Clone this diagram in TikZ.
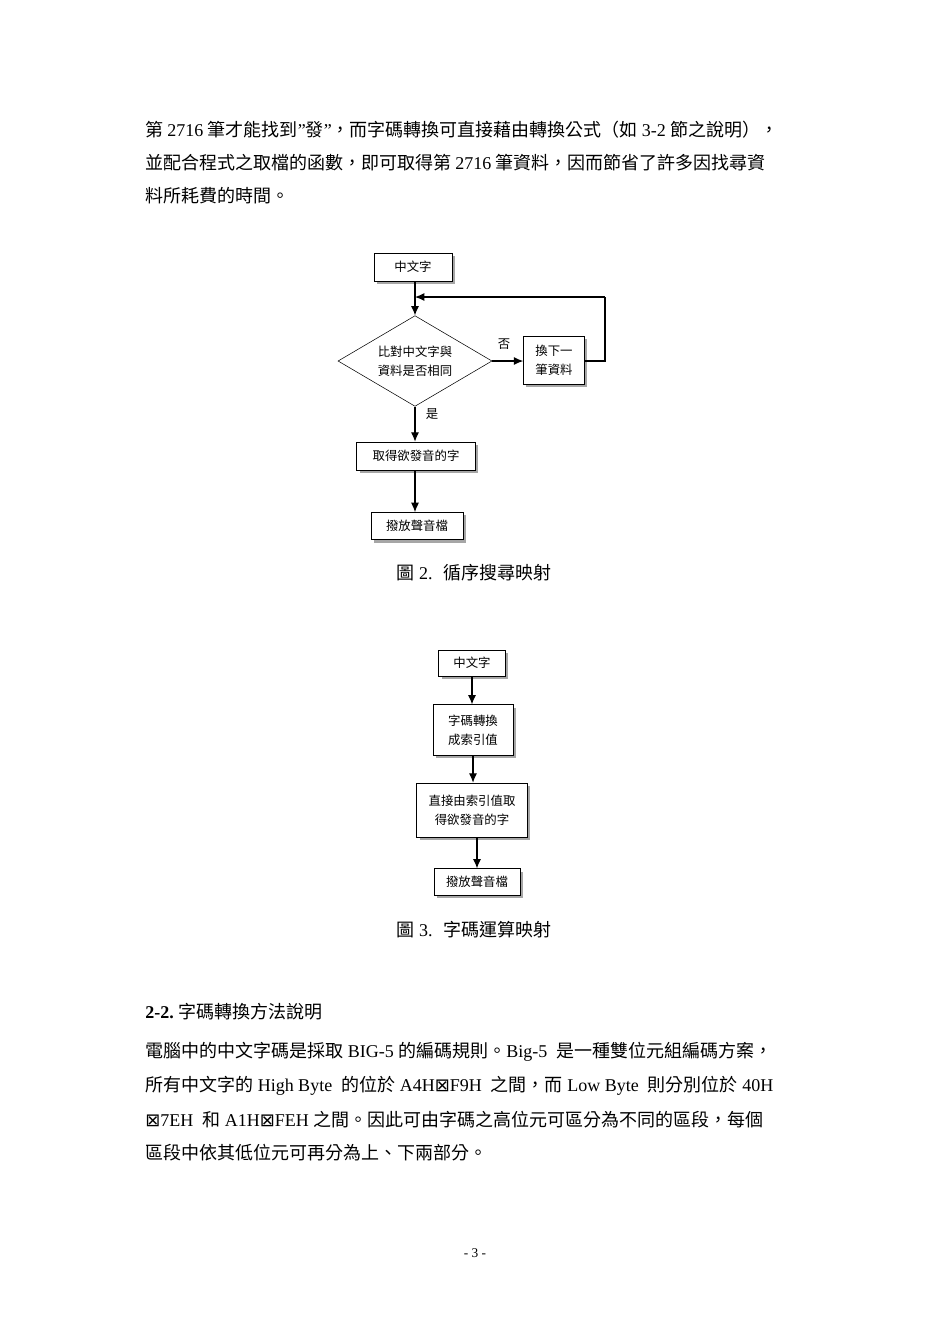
\documentclass[tikz,border=0pt]{standalone}
\usepackage{fontspec}
\setmainfont{Liberation Serif}
\newfontfamily\cjk{Noto Sans CJK TC}
\newfontfamily\dvs{DejaVu Sans}
\usetikzlibrary{shapes.geometric,shadows,arrows.meta}
\begin{document}
\begin{tikzpicture}[x=0.75pt,y=-0.75pt,
  body/.style={anchor=west,inner sep=0,font=\fontsize{13.5pt}{16pt}\selectfont},
  box/.style={draw,fill=white,inner sep=2pt,align=center,font=\cjk\fontsize{9.3pt}{14pt}\selectfont,
    drop shadow={shadow xshift=2.2pt,shadow yshift=-2.2pt,fill=gray!70,opacity=1}},
  arr/.style={-{Latex[length=7pt,width=6pt]},line width=0.8pt},
  lbl/.style={font=\cjk\fontsize{9.3pt}{11pt}\selectfont,inner sep=0}]
\fill[white] (0,0) rectangle (950,1343);
\useasboundingbox (0,0) rectangle (950,1343);
% body text
\node[body] (t1) at (145,130) {\cjk 第 \rmfamily 2716 \cjk 筆才能找到\rmfamily ”\cjk 發\rmfamily ”\cjk ，而字碼轉換可直接藉由轉換公式（如 \rmfamily 3-2 \cjk 節之說明），};
\node[body] (t2) at (145,163) {\cjk 並配合程式之取檔的函數，即可取得第 \rmfamily 2716 \cjk 筆資料，因而節省了許多因找尋資};
\node[body] (t3) at (145,196) {\cjk 料所耗費的時間。};
% flowchart 1
\node[box,minimum width=58.5pt,minimum height=21pt] (a1) at (413,267) {中文字};
\node[draw,diamond,aspect=1.65,inner sep=0,minimum width=115.5pt,minimum height=68pt,align=center,
  font=\cjk\fontsize{9.3pt}{14pt}\selectfont] (d1) at (415,361) {比對中文字與\\資料是否相同};
\node[box,minimum width=45.75pt,minimum height=36pt] (n1) at (554,360) {換下一\\筆資料};
\node[box,minimum width=89pt,minimum height=21pt] (g1) at (416,456) {取得欲發音的字};
\node[box,minimum width=69pt,minimum height=20.5pt] (p1) at (417,526) {撥放聲音檔};
\coordinate (c1) at (605,297);
\coordinate (c2) at (415,297);
\draw[arr] (a1.south -| d1.north) -- (d1.north);
\draw[arr] (d1.east) -- (n1.west |- d1.east);
\draw[line width=0.8pt] (n1.east |- d1.east) -| (c1);
\draw[arr] (c1) -- (c2);
\draw[arr] (d1.south) -- (d1.south |- g1.north);
\draw[arr] (g1.south -| d1.south) -- (d1.south |- p1.north);
\node[lbl] (no) at (504,344) {否};
\node[lbl] (yes) at (432,414) {是};
\node[body,anchor=center] (cap1) at (474,573) {\cjk 圖 \rmfamily 2.~ \cjk 循序搜尋映射};
% flowchart 2
\node[box,minimum width=50pt,minimum height=19.5pt] (a2) at (472,663) {中文字};
\node[box,minimum width=60pt,minimum height=38pt] (b2) at (473,730) {字碼轉換\\成索引值};
\node[box,minimum width=83pt,minimum height=40.5pt] (c2b) at (472,810) {直接由索引值取\\得欲發音的字};
\node[box,minimum width=64.5pt,minimum height=20pt] (p2) at (477,882) {撥放聲音檔};
\draw[arr] (a2) -- (a2 |- b2.north);
\draw[arr] (b2.south) -- (b2.south |- c2b.north);
\draw[arr] (c2b.south -| p2) -- (p2.north);
\node[body,anchor=center] (cap2) at (474,930) {\cjk 圖 \rmfamily 3.~ \cjk 字碼運算映射};
% section
\node[body] (h) at (145,1012) {\bfseries 2-2.\mdseries\ \cjk 字碼轉換方法說明};
\node[body] (s1) at (145,1052) {\cjk 電腦中的中文字碼是採取\rmfamily\ BIG-5 \cjk 的編碼規則。\rmfamily Big-5~ \cjk 是一種雙位元組編碼方案，};
\node[body] (s2) at (145,1086) {\cjk 所有中文字的\rmfamily\ High Byte~ \cjk 的位於\rmfamily\ A4H{\dvs ⊠}F9H~ \cjk 之間，而\rmfamily\ Low Byte~ \cjk 則分別位於\rmfamily\ 40H};
\node[body] (s3) at (145,1120) {{\dvs ⊠}7EH~ \cjk 和\rmfamily\ A1H{\dvs ⊠}FEH \cjk 之間。因此可由字碼之高位元可區分為不同的區段，每個};
\node[body] (s4) at (145,1153) {\cjk 區段中依其低位元可再分為上、下兩部分。};
\node[font=\fontsize{10pt}{12pt}\selectfont,inner sep=0] (pg) at (475,1253) {- 3 -};
\end{tikzpicture}
\end{document}
